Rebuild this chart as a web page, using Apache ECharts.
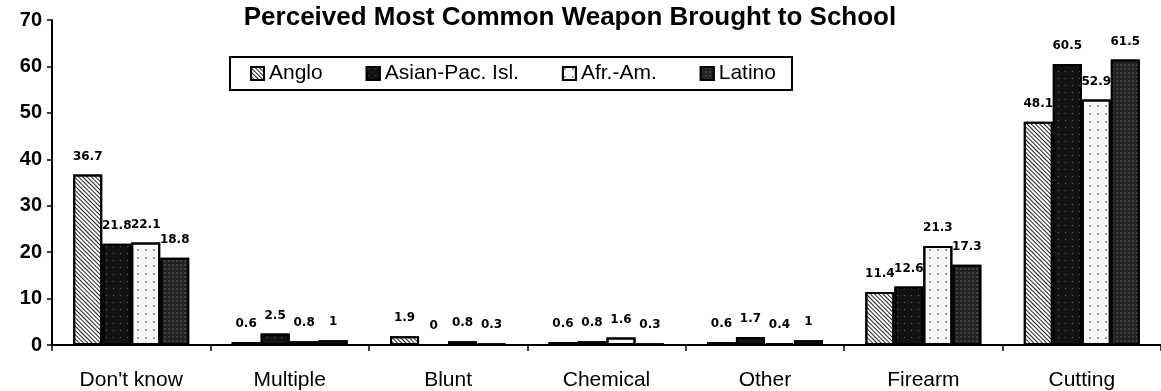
<!DOCTYPE html>
<html>
<head>
<meta charset="utf-8">
<script src="https://cdn.jsdelivr.net/npm/echarts@6/dist/echarts.min.js"></script>
<style>
  html, body { margin: 0; padding: 0; background: #fff; }
  #chart { width: 1161px; height: 391px; }
</style>
</head>
<body>
<div id="chart"></div>
<script>
// Weapon categories along the x axis
const categories = ['Don\'t know', 'Multiple', 'Blunt', 'Chemical', 'Other', 'Firearm', 'Cutting'];

// Percent of respondents per group
const anglo     = [36.7, 0.6, 1.9, 0.6, 0.6, 11.4, 48.1];
const asianPac  = [21.8, 2.5, 0,   0.8, 1.7, 12.6, 60.5];
const afrAm     = [22.1, 0.8, 0.8, 1.6, 0.4, 21.3, 52.9];
const latino    = [18.8, 1,   0.3, 0.3, 1,   17.3, 61.5];

const seriesNames = ['Anglo', 'Asian-Pac. Isl.', 'Afr.-Am.', 'Latino'];
const yTicks = [0, 10, 20, 30, 40, 50, 60, 70];

// Fill textures for each group
const styles = [
  { color: '#ffffff', decal: { symbol: 'rect', color: '#222', dashArrayX: [1, 0], dashArrayY: [1, 1.5], rotation: Math.PI / 4, symbolSize: 1 } },
  { color: '#121212', decal: { symbol: 'circle', color: '#555', dashArrayX: [3, 4], dashArrayY: [3, 4], symbolSize: 0.5 } },
  { color: '#f7f7f7', decal: { symbol: 'circle', color: '#808080', dashArrayX: [4, 4], dashArrayY: [4, 4], symbolSize: 0.5 } },
  { color: '#222222', decal: { symbol: 'rect', color: '#999', dashArrayX: [2, 2], dashArrayY: [2, 2], symbolSize: 0.5 } }
];

const dataSets = [anglo, asianPac, afrAm, latino];

const chart = echarts.init(document.getElementById('chart'), null, { renderer: 'canvas' });

chart.setOption({
  animation: false,
  backgroundColor: '#ffffff',
  title: {
    text: 'Perceived Most Common Weapon Brought to School',
    left: 565,
    textAlign: 'center',
    top: 0,
    textStyle: { fontFamily: 'Liberation Sans', fontWeight: 'bold', fontSize: 26, color: '#000' }
  },
  legend: {
    left: 230,
    top: 57,
    padding: [6, 16, 6, 20],
    borderColor: '#000',
    borderWidth: 2,
    itemWidth: 13,
    itemHeight: 13,
    itemGap: 43,
    icon: 'rect',
    textStyle: { fontFamily: 'Liberation Sans', fontSize: 21, color: '#000' },
    data: seriesNames
  },
  grid: { left: 52, top: 20, width: 1112, height: 325 },
  xAxis: {
    type: 'category',
    data: categories,
    axisLine: { lineStyle: { color: '#000', width: 2 } },
    axisTick: { show: true, length: 6, lineStyle: { color: '#000', width: 1.5 } },
    axisLabel: { margin: 25, color: '#000', fontFamily: 'Liberation Sans', fontSize: 21 }
  },
  yAxis: {
    type: 'value',
    min: yTicks[0],
    max: yTicks[yTicks.length - 1],
    interval: 10,
    splitLine: { show: false },
    axisLine: { show: true, lineStyle: { color: '#000', width: 2 } },
    axisTick: { show: true, length: 5, lineStyle: { color: '#000', width: 1.5 } },
    axisLabel: { margin: 10, color: '#000', fontFamily: 'Liberation Sans', fontWeight: 'bold', fontSize: 20 }
  },
  series: seriesNames.map((name, i) => ({
    name: name,
    type: 'bar',
    data: dataSets[i],
    barWidth: 29,
    barGap: '0%',
    itemStyle: {
      color: styles[i].color,
      borderColor: '#000',
      borderWidth: 2,
      decal: styles[i].decal
    },
    label: {
      show: true,
      position: 'top',
      distance: 12,
      color: '#000',
      fontFamily: 'DejaVu Sans',
      fontWeight: 'bold',
      fontSize: 12
    }
  }))
});
</script>
</body>
</html>
